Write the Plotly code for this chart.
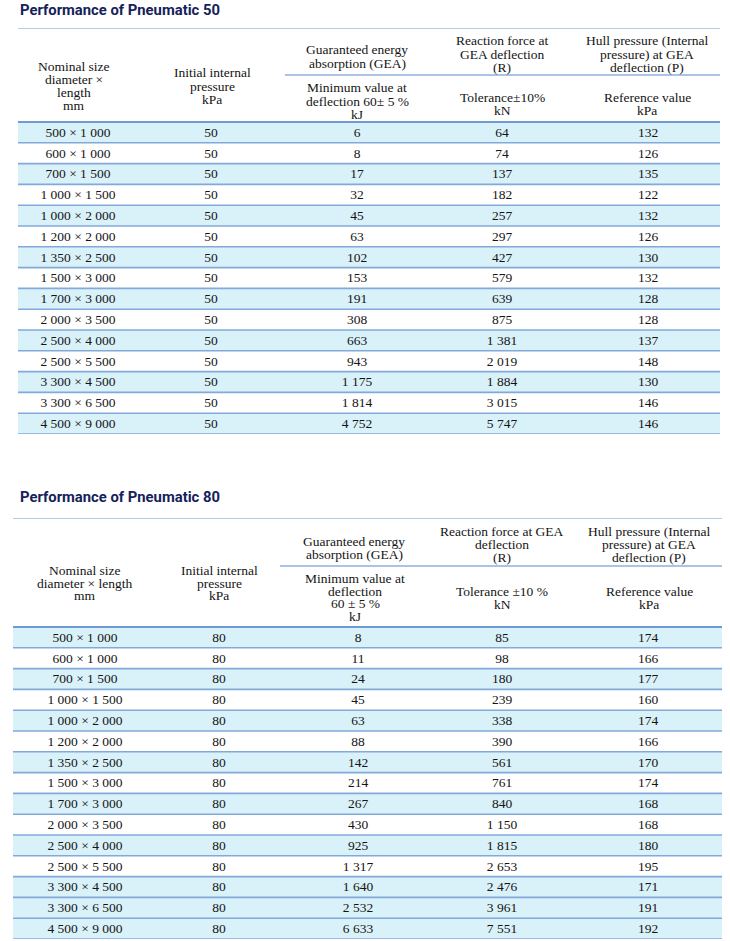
import plotly.graph_objects as go

# ---------------- data ----------------
diam = [500, 600, 700, 1000, 1000, 1200, 1350, 1500, 1700, 2000, 2500, 2500, 3300, 3300, 4500]
length = [1000, 1000, 1500, 1500, 2000, 2000, 2500, 3000, 3000, 3500, 4000, 5500, 4500, 6500, 9000]

p50_init = [50] * 15
p50_gea = [6, 8, 17, 32, 45, 63, 102, 153, 191, 308, 663, 943, 1175, 1814, 4752]
p50_react = [64, 74, 137, 182, 257, 297, 427, 579, 639, 875, 1381, 2019, 1884, 3015, 5747]
p50_hull = [132, 126, 135, 122, 132, 126, 130, 132, 128, 128, 137, 148, 130, 146, 146]

p80_init = [80] * 15
p80_gea = [8, 11, 24, 45, 63, 88, 142, 214, 267, 430, 925, 1317, 1640, 2532, 6633]
p80_react = [85, 98, 180, 239, 338, 390, 561, 761, 840, 1150, 1815, 2653, 2476, 3961, 7551]
p80_hull = [174, 166, 177, 160, 174, 166, 170, 174, 168, 168, 180, 195, 171, 191, 192]

titles = ["Performance of Pneumatic 50", "Performance of Pneumatic 80"]

hdr50 = [
    ["Nominal size", "diameter ×", "length", "mm"],
    ["Initial internal", "pressure", "kPa"],
    ["Guaranteed energy", "absorption (GEA)"],
    ["Minimum value at", "deflection 60± 5 %", "kJ"],
    ["Reaction force at", "GEA deflection", "(R)"],
    ["Tolerance±10%", "kN"],
    ["Hull pressure (Internal", "pressure) at GEA", "deflection (P)"],
    ["Reference value", "kPa"],
]
hdr80 = [
    ["Nominal size", "diameter × length", "mm"],
    ["Initial internal", "pressure", "kPa"],
    ["Guaranteed energy", "absorption (GEA)"],
    ["Minimum value at", "deflection", "60 ± 5 %", "kJ"],
    ["Reaction force at GEA", "deflection", "(R)"],
    ["Tolerance ±10 %", "kN"],
    ["Hull pressure (Internal", "pressure) at GEA", "deflection (P)"],
    ["Reference value", "kPa"],
]
shade50 = [1, 0, 1, 0, 1, 0, 1, 0, 1, 0, 1, 0, 1, 0, 1]
shade80 = [1, 0, 1, 0, 1, 0, 1, 0, 1, 0, 1, 0, 1, 1, 1]


def fmt(v):
    return f"{v:,}".replace(",", " ")


sizes = [f"{fmt(d)} × {fmt(l)}" for d, l in zip(diam, length)]

# ---------------- layout params ----------------
W, H = 730, 941
SERIF = "Liberation Serif, Times New Roman, serif"
FS = 13.5
TXT = "#141414"
FILL = "#d9f1f8"
LINE = "#82a9da"
NAVY = "#15215a"

tables = [
    dict(title=titles[0], yname="y", yax="yaxis", top=28, sub=75, hb=122, bot=434,
         left=18, right=720, subleft=285, title_y=10, title_x=18,
         cx_data=[78, 211, 357, 502, 648],
         hdr=hdr50,
         hdr_pos=[(74, 86), (212, 86), (357, 56.5), (357, 101), (502, 54), (502, 104), (647, 54), (647, 104)],
         ls=13.3, shade=shade50,
         cols=[sizes, p50_init, p50_gea, p50_react, p50_hull]),
    dict(title=titles[1], yname="y2", yax="yaxis2", top=518, sub=566, hb=627, bot=939,
         left=13, right=722, subleft=280, title_y=497, title_x=18,
         cx_data=[85, 219, 358, 502, 648],
         hdr=hdr80,
         hdr_pos=[(85, 583), (219, 583), (354, 548), (355, 597.5), (502, 544.5), (502, 598), (649, 544.5), (649, 598)],
         ls=12.7, shade=shade80,
         cols=[sizes, p80_init, p80_gea, p80_react, p80_hull]),
]

fig = go.Figure()
shapes = []
annotations = []
layout_axes = {}

for t in tables:
    n = len(t["cols"][0])
    unit = (t["bot"] - t["hb"]) / n

    def to_y(px, t=t, unit=unit):
        return (px - t["hb"]) / unit

    yref = t["yname"]
    layout_axes[t["yax"]] = dict(
        domain=[1 - t["bot"] / H, 1 - t["top"] / H],
        range=[n, to_y(t["top"])],
        visible=False, fixedrange=True,
    )

    # row fills
    for i, s in enumerate(t["shade"]):
        if s:
            shapes.append(dict(type="rect", xref="x", yref=yref, x0=t["left"], x1=t["right"],
                               y0=i, y1=i + 1, fillcolor=FILL, line=dict(width=0), layer="below"))
    # row lines
    for i in range(n):
        shapes.append(dict(type="line", xref="x", yref=yref, x0=t["left"], x1=t["right"],
                           y0=i + 1, y1=i + 1, line=dict(color=LINE, width=1.6)))
    # header lines
    shapes.append(dict(type="line", xref="x", yref=yref, x0=t["left"], x1=t["right"],
                       y0=to_y(t["top"]), y1=to_y(t["top"]), line=dict(color="#9dbbe0", width=1.6)))
    shapes.append(dict(type="line", xref="x", yref=yref, x0=t["subleft"], x1=t["right"],
                       y0=to_y(t["sub"]), y1=to_y(t["sub"]), line=dict(color="#8fb1dc", width=1.4)))
    shapes.append(dict(type="line", xref="x", yref=yref, x0=t["left"], x1=t["right"],
                       y0=0, y1=0, line=dict(color="#6f9ad2", width=2.2)))

    # header text (one annotation per line)
    for lines, (cx, cy) in zip(t["hdr"], t["hdr_pos"]):
        k = len(lines)
        for j, ln in enumerate(lines):
            py = cy + (j - (k - 1) / 2) * t["ls"]
            annotations.append(dict(x=cx, y=to_y(py), xref="x", yref=yref, text=ln, showarrow=False,
                                    xanchor="center", yanchor="middle", borderpad=0,
                                    font=dict(family=SERIF, size=FS, color=TXT)))

    # data cells
    ys = [i + 0.55 for i in range(n)]
    for cx, col in zip(t["cx_data"], t["cols"]):
        txt = [c if isinstance(c, str) else fmt(c) for c in col]
        fig.add_trace(go.Scatter(x=[cx] * n, y=ys, mode="text", text=txt,
                                 textposition="middle center",
                                 textfont=dict(family=SERIF, size=FS, color=TXT),
                                 hoverinfo="skip", showlegend=False, cliponaxis=False,
                                 xaxis="x", yaxis=yref))

    # title (paper coordinates)
    annotations.append(dict(x=t["title_x"] / W, y=1 - t["title_y"] / H, xref="paper", yref="paper",
                            text=f"<b>{t['title']}</b>", showarrow=False,
                            xanchor="left", yanchor="middle",
                            font=dict(family="Roboto, Liberation Sans, sans-serif", size=14.8,
                                      color=NAVY, weight=900)))

fig.update_layout(
    width=W, height=H,
    margin=dict(l=0, r=0, t=0, b=0),
    paper_bgcolor="white", plot_bgcolor="white",
    xaxis=dict(range=[0, W], domain=[0, 1], visible=False, fixedrange=True),
    shapes=shapes, annotations=annotations,
    showlegend=False,
    **layout_axes,
)

fig.write_html("out.html", config={"displayModeBar": False},
               post_script="document.body.style.margin='0';document.body.style.padding='0';")
